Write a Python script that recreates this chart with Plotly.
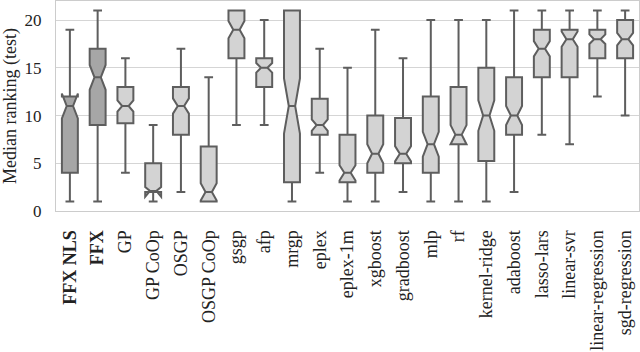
import plotly.graph_objects as go

# median ranking (test) per method
categories = ['FFX NLS', 'FFX', 'GP', 'GP CoOp', 'OSGP', 'OSGP CoOp', 'gsgp', 'afp', 'mrgp',
              'eplex', 'eplex-1m', 'xgboost', 'gradboost', 'mlp', 'rf', 'kernel-ridge',
              'adaboost', 'lasso-lars', 'linear-svr', 'linear-regression', 'sgd-regression']
lower  = [1, 1, 4, 1, 2, 1, 9, 9, 1, 4, 1, 1, 2, 1, 1, 1, 2, 8, 7, 12, 10]
q1     = [4, 9, 9.2, 2, 8, 1, 16, 13, 3, 8, 3, 4, 5, 4, 7, 5.25, 8, 14, 14, 16, 16]
median = [11, 14, 11, 2, 11, 2, 19, 15, 11, 9, 4, 6, 6, 7, 8, 10, 10, 17, 18, 18, 18]
q3     = [12, 17, 13, 5, 13, 6.75, 21, 16, 21, 11.75, 8, 10, 9.75, 12, 13, 15, 14, 19, 19, 19, 20]
upper  = [19, 21, 16, 9, 17, 14, 21, 20, 21, 17, 15, 19, 16, 20, 20, 20, 21, 21, 21, 21, 21]
notch  = [1.3, 1.3, 0.6, 0.5, 0.8, 0.9, 0.9, 0.5, 2.9, 0.6, 0.8, 1.0, 0.8, 1.3, 1.0, 1.6,
          1.0, 0.8, 0.8, 0.5, 0.65]
bold_names = ['FFX NLS', 'FFX']

fig = go.Figure()
for i, name in enumerate(categories):
    fill = '#a6a6a6' if name in bold_names else '#d3d3d3'
    fig.add_trace(go.Box(
        x=[name], q1=[q1[i]], median=[median[i]], q3=[q3[i]],
        lowerfence=[lower[i]], upperfence=[upper[i]], notchspan=[notch[i]],
        notched=True, notchwidth=0.3, whiskerwidth=0.55,
        fillcolor=fill, line=dict(color='#5e5e5e', width=2),
        boxpoints=False, showlegend=False, name=name))
#endfor

ticktext = ['<b>%s</b>' % c if c in bold_names else c for c in categories]

fig.update_layout(
    width=640, height=352,
    margin=dict(l=56, r=1, t=1, b=141),
    plot_bgcolor='white', paper_bgcolor='white',
    boxmode='overlay', boxgap=0.18,
    font=dict(family='Liberation Serif', size=17, color='#222222'),
)
fig.update_xaxes(
    type='category', categoryorder='array', categoryarray=categories,
    tickvals=categories, ticktext=ticktext, tickangle=-90, tickfont=dict(size=18),
    range=[-0.5, len(categories) - 0.5], automargin=False,
    showgrid=False, showline=True, mirror=True, linecolor='#cccccc', linewidth=1,
    ticks='', ticklabelstandoff=11,
)
fig.update_yaxes(
    range=[0, 22], tickvals=[0, 5, 10, 15, 20], showgrid=True, gridcolor='#d5d5d5',
    zeroline=False, showline=True, mirror=True, linecolor='#cccccc', linewidth=1,
    ticks='', ticklabelstandoff=10, automargin=False,
    title=dict(text='Median ranking (test)', standoff=10, font=dict(size=18)),
)

# page body has a default 8px margin, drop it so the figure sits at the corner
fig.write_html("out.html", config={'displayModeBar': False},
               post_script="document.body.style.margin='0px';")
